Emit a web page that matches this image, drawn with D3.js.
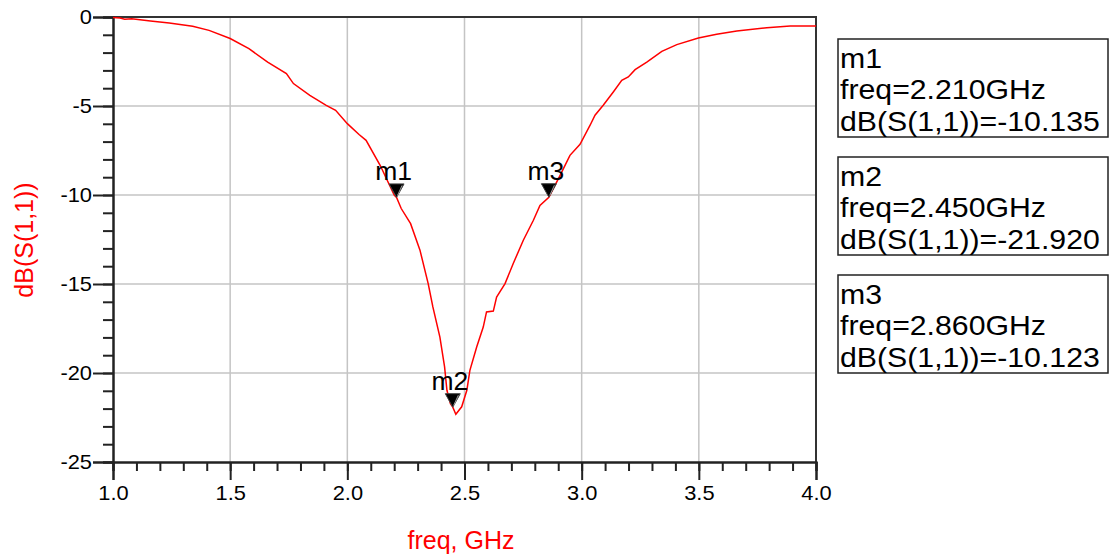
<!DOCTYPE html>
<html>
<head>
<meta charset="utf-8">
<script src="https://cdn.jsdelivr.net/npm/d3@7"></script>
<style>
  body { margin: 0; background: #fff; }
  text { font-family: "Liberation Sans", Arial, sans-serif; }
</style>
</head>
<body>
<svg id="chart" width="1113" height="559"></svg>
<script>
// S11 sweep
const freqGHz = [1.00, 1.03, 1.05, 1.08, 1.16, 1.24, 1.34, 1.41, 1.50, 1.58, 1.66,
  1.74, 1.77, 1.84, 1.91, 1.95, 2.00, 2.05, 2.08, 2.14, 2.20,
  2.21, 2.23, 2.27, 2.31, 2.345, 2.365, 2.395, 2.415, 2.425, 2.44,
  2.45, 2.463, 2.488, 2.51, 2.523, 2.552, 2.58, 2.594, 2.623, 2.637,
  2.673, 2.708, 2.751, 2.794, 2.822, 2.86, 2.908, 2.95, 2.993, 3.036,
  3.057, 3.092, 3.135, 3.171, 3.199, 3.228, 3.278, 3.342, 3.406, 3.498,
  3.576, 3.662, 3.79, 3.89, 4.00];
const s11dB = [-0.03, -0.06, -0.12, -0.10, -0.22, -0.34, -0.52, -0.75, -1.21, -1.78, -2.53,
  -3.18, -3.74, -4.40, -4.96, -5.24, -5.99, -6.60, -6.93, -8.33, -10.00,
  -10.135, -10.76, -11.61, -13.10, -14.98, -16.29, -17.98, -19.66, -20.97, -21.72,
  -21.92, -22.32, -21.90, -20.97, -19.85, -18.54, -17.42, -16.57, -16.52, -15.73,
  -14.98, -13.85, -12.54, -11.42, -10.58, -10.123, -8.90, -7.77, -7.15, -6.08,
  -5.52, -4.96, -4.21, -3.56, -3.37, -2.96, -2.53, -1.93, -1.55, -1.18,
  -0.97, -0.79, -0.60, -0.51, -0.51];

// markers
const markerNames = ["m1", "m2", "m3"];
const markerFreq = [2.210, 2.450, 2.860];
const markerDB = [-10.135, -21.920, -10.123];

// ticks
const xMajor = [1.0, 1.5, 2.0, 2.5, 3.0, 3.5, 4.0];
const yMajor = [0, -5, -10, -15, -20, -25];

const svg = d3.select("#chart");
const plotLeft = 113, plotRight = 816, plotTop = 17, plotBottom = 462;

const x = d3.scaleLinear().domain([1, 4]).range([plotLeft, plotRight]);
const y = d3.scaleLinear().domain([0, -25]).range([plotTop, plotBottom]);

// stretch text horizontally a bit, the original font runs wide
function stretch(sel, k) {
  sel.each(function () {
    const w = this.getComputedTextLength();
    d3.select(this).attr("textLength", w * k).attr("lengthAdjust", "spacingAndGlyphs");
  });
}

// grid
svg.append("g")
  .selectAll("line")
  .data(xMajor.slice(1, -1))
  .join("line")
  .attr("x1", d => x(d)).attr("x2", d => x(d))
  .attr("y1", plotTop).attr("y2", plotBottom)
  .attr("stroke", "#c4c4c4").attr("stroke-width", 1.5);

svg.append("g")
  .selectAll("line")
  .data(yMajor.slice(1, -1))
  .join("line")
  .attr("x1", plotLeft).attr("x2", plotRight)
  .attr("y1", d => y(d)).attr("y2", d => y(d))
  .attr("stroke", "#c4c4c4").attr("stroke-width", 1.5);

// frame top and right
svg.append("path")
  .attr("d", `M${plotLeft},${plotTop}H${plotRight}V${plotBottom}`)
  .attr("fill", "none").attr("stroke", "#333").attr("stroke-width", 2);

// x axis
const xAxis = svg.append("g").attr("transform", `translate(0,${plotBottom})`);
xAxis.call(d3.axisBottom(x).ticks(30).tickSize(9).tickFormat(""));
xAxis.append("g").call(d3.axisBottom(x).tickValues(xMajor).tickSize(18).tickFormat(d => d.toFixed(1)));
xAxis.selectAll(".domain").attr("stroke", "#222").attr("stroke-width", 2);
xAxis.selectAll(".tick line").attr("stroke", "#222").attr("stroke-width", 2);
xAxis.selectAll(".tick text")
  .attr("fill", "#000").attr("font-size", 21).attr("y", 23).attr("dy", "0.71em")
  .call(stretch, 1.04);

// y axis
const yAxis = svg.append("g").attr("transform", `translate(${plotLeft},0)`);
yAxis.call(d3.axisLeft(y).ticks(25).tickSize(10).tickFormat(""));
yAxis.append("g").call(d3.axisLeft(y).tickValues(yMajor).tickSize(20).tickFormat(d => String(d)));
yAxis.selectAll(".domain").attr("stroke", "#222").attr("stroke-width", 2);
yAxis.selectAll(".tick line").attr("stroke", "#222").attr("stroke-width", 2);
yAxis.selectAll(".tick text")
  .attr("fill", "#000").attr("font-size", 21).attr("x", -21)
  .call(stretch, 1.04);

// the trace
const line = d3.line().x((d, i) => x(freqGHz[i])).y(d => y(d));
svg.append("path")
  .datum(s11dB)
  .attr("d", line)
  .attr("fill", "none")
  .attr("stroke", "#ff0000")
  .attr("stroke-width", 1.5);

// markers
const mk = svg.append("g")
  .selectAll("g")
  .data(markerNames)
  .join("g")
  .attr("transform", (d, i) => `translate(${x(markerFreq[i])},${y(markerDB[i])})`);

mk.append("path")
  .attr("d", "M0,0L-7.5,-13.5H7.5Z")
  .attr("fill", "#000").attr("stroke", "#444").attr("stroke-width", 1);
mk.append("path")
  .attr("d", "M1,-2L5.5,-12")
  .attr("stroke", "#9a9a9a").attr("stroke-width", 1);

mk.append("text")
  .attr("x", -3).attr("y", -17)
  .attr("text-anchor", "middle")
  .attr("font-size", 25)
  .attr("fill", "#000")
  .text(d => d)
  .call(stretch, 1.06);

// marker readout boxes
const boxTop = [39, 157, 275];
const boxes = svg.append("g")
  .selectAll("g")
  .data(markerNames)
  .join("g")
  .attr("transform", (d, i) => `translate(838,${boxTop[i]})`);

boxes.append("rect")
  .attr("width", 270).attr("height", 98)
  .attr("fill", "#fff").attr("stroke", "#222").attr("stroke-width", 1.5);

boxes.each(function (d, i) {
  const lines = [d,
    `freq=${markerFreq[i].toFixed(3)}GHz`,
    `dB(S(1,1))=${markerDB[i].toFixed(3)}`];
  d3.select(this).selectAll("text")
    .data(lines)
    .join("text")
    .attr("x", 2)
    .attr("y", (t, j) => 29 + j * 31.3)
    .attr("font-size", 27.5)
    .attr("fill", "#000")
    .text(t => t)
    .call(stretch, 1.1);
});

// axis titles
svg.append("text")
  .attr("x", 461).attr("y", 549)
  .attr("text-anchor", "middle")
  .attr("font-size", 25)
  .attr("fill", "#ff0000")
  .text("freq, GHz");

svg.append("text")
  .attr("transform", "translate(33,240) rotate(-90)")
  .attr("text-anchor", "middle")
  .attr("font-size", 25)
  .attr("fill", "#ff0000")
  .text("dB(S(1,1))");
</script>
</body>
</html>
